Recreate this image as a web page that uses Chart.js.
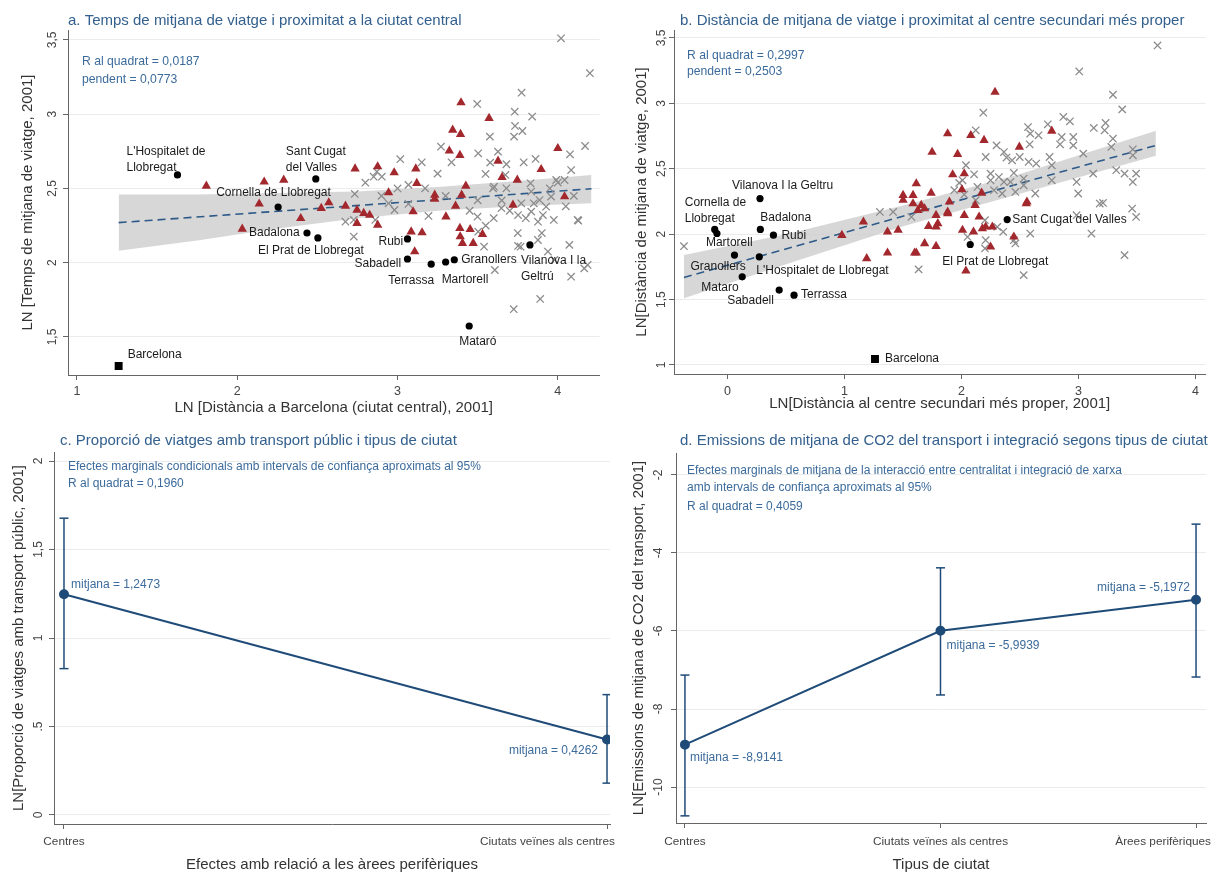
<!DOCTYPE html>
<html lang="ca">
<head>
<meta charset="utf-8">
<title>Viatges, proximitat i tipus de ciutat</title>
<script src="https://cdn.jsdelivr.net/npm/chart.js@4.4.1/dist/chart.umd.min.js"></script>
<style>
  body { margin: 0; background: #fff; }
  .panel { position: absolute; }
</style>
</head>
<body>
<div class="panel" style="left:0;top:0"><canvas id="chartA" width="606" height="420"></canvas></div>
<div class="panel" style="left:606px;top:0"><canvas id="chartB" width="606" height="420"></canvas></div>
<div class="panel" style="left:0;top:420px"><canvas id="chartC" width="620" height="453"></canvas></div>
<div class="panel" style="left:612px;top:420px"><canvas id="chartD" width="600" height="453"></canvas></div>
<script>
// ---------- panel a: temps de viatge vs distancia a Barcelona ----------
const citiesA = ["L'Hospitalet de\nLlobregat", "Sant Cugat\ndel Valles", "Cornella de Llobregat", "Badalona",
  "El Prat de Llobregat", "Rubi", "Sabadell", "Terrassa", "Martorell", "Granollers", "Vilanova I la\nGeltrú", "Mataró"];
const cityXA = [1.627, 2.49, 2.255, 2.435, 2.503, 3.062, 3.062, 3.21, 3.30, 3.354, 3.826, 3.447];
const cityYA = [2.591, 2.564, 2.375, 2.20, 2.167, 2.16, 2.025, 1.99, 2.005, 2.02, 2.12, 1.574];
const bcnA = [1.26, 1.305];
const triXA = [3.396, 3.571, 3.344, 3.393, 3.323, 3.389, 2.735, 2.876, 2.979, 3.114, 3.627, 3.652, 3.747, 3.896, 4.0,
  3.12, 2.944, 3.426, 3.4, 3.232, 3.232, 2.571, 2.675, 2.524, 2.747, 2.789, 2.826, 3.097, 3.362, 3.302, 2.747, 2.876,
  3.72, 4.042, 3.085, 3.153, 3.389, 3.453, 3.53, 3.391, 3.405, 3.472, 3.107, 2.396, 1.807, 2.168, 2.29, 2.137, 2.031];
const triYA = [3.078, 2.973, 2.894, 2.865, 2.753, 2.724, 2.633, 2.647, 2.607, 2.633, 2.685, 2.575, 2.557, 2.629, 2.77,
  2.535, 2.472, 2.517, 2.456, 2.456, 2.429, 2.405, 2.382, 2.367, 2.355, 2.333, 2.321, 2.344, 2.382, 2.31, 2.266, 2.254,
  2.389, 2.445, 2.209, 2.203, 2.232, 2.225, 2.192, 2.176, 2.131, 2.131, 2.075, 2.299, 2.517, 2.545, 2.557, 2.396, 2.227];
const crsXA = [4.02, 4.2, 3.774, 3.497, 3.731, 3.84, 3.733, 3.576, 3.727, 3.779, 4.17, 3.271, 3.337, 3.503, 3.627, 4.076,
  3.861, 3.787, 3.578, 3.679, 3.017, 3.151, 2.871, 2.902, 2.799, 4.083, 3.549, 3.673, 3.99, 3.068, 3.172, 2.733, 3.83,
  3.602, 2.851, 2.981, 2.944, 3.068, 3.193, 3.499, 3.596, 3.679, 3.648, 3.772, 3.834, 3.834, 3.886, 3.927, 3.907, 3.876,
  3.752, 3.958, 4.0, 4.042, 3.975, 3.503, 4.124, 3.768, 3.876, 3.54, 4.072, 3.938, 2.861, 2.727, 2.727, 2.675, 4.186,
  3.607, 4.083, 4.128, 3.979, 4.165, 3.89, 3.725, 3.752, 3.65, 3.7, 3.8, 3.85, 3.95, 3.6, 3.5, 3.55, 3.9, 3.75, 4.05,
  4.1, 3.45, 3.3, 3.25, 3.0, 2.9];
const crsYA = [3.511, 3.276, 3.145, 3.069, 3.017, 2.984, 2.921, 2.849, 2.849, 2.887, 2.786, 2.781, 2.676, 2.737, 2.748,
  2.73, 2.699, 2.676, 2.674, 2.663, 2.697, 2.676, 2.613, 2.579, 2.539, 2.624, 2.598, 2.591, 2.557, 2.524, 2.501, 2.463,
  2.535, 2.512, 2.579, 2.355, 2.4, 2.396, 2.315, 2.31, 2.501, 2.501, 2.367, 2.4, 2.479, 2.344, 2.422, 2.377, 2.321, 2.276,
  2.321, 2.445, 2.54, 2.557, 2.288, 2.209, 2.288, 2.108, 2.153, 2.108, 2.12, 2.075, 2.288, 2.288, 2.176, 2.276, 1.985,
  1.951, 1.906, 2.283, 2.019, 1.962, 1.756, 1.687, 2.113, 2.42, 2.35, 2.3, 2.4, 2.5, 2.3, 2.42, 2.25, 2.2, 2.2, 2.38,
  2.45, 2.35, 2.45, 2.6, 2.5, 2.45];
const fitXA = [1.26, 4.21];
const fitYA = [2.27, 2.498];
const bandXA = [1.26, 1.75, 2.25, 2.75, 3.25, 3.75, 4.21];
const bandLoA = [2.08, 2.15, 2.23, 2.30, 2.35, 2.38, 2.40];
const bandHiA = [2.46, 2.46, 2.47, 2.48, 2.51, 2.55, 2.59];
const xTicksA = [1, 2, 3, 4];
const yTicksA = [1.5, 2, 2.5, 3, 3.5];
const yTickLabelsA = ['1,5', '2', '2,5', '3', '3,5'];

// ---------- panel b: distancia de viatge vs centre secundari ----------
const citiesB = ['Vilanova I la Geltru', 'Cornella de\nLlobregat', 'Martorell', 'Granollers', 'Badalona', 'Rubi',
  "L'Hospitalet de Llobregat", 'Mataro', 'Sabadell', 'Terrassa', 'Sant Cugat del Valles', 'El Prat de Llobregat'];
const cityXB = [0.277, -0.110, -0.091, 0.059, 0.280, 0.392, 0.271, 0.125, 0.441, 0.568, 2.39, 2.074];
const cityYB = [2.272, 2.036, 2.005, 1.840, 2.036, 1.992, 1.827, 1.674, 1.573, 1.534, 2.112, 1.921];
const bcnB = [1.26, 1.046];
const triXB = [2.286, 1.881, 2.079, 2.192, 1.748, 1.966, 2.771, 2.494, 1.924, 2.023, 1.613, 1.74, 2.172, 2.003, 1.896,
  2.559, 1.585, 1.655, 1.881, 1.782, 1.718, 1.782, 2.023, 2.008, 2.102, 2.15, 2.206, 2.263, 2.178, 1.458, 1.613, 1.782,
  2.248, 2.447, 2.553, 2.037, 2.116, 0.977, 1.161, 1.189, 1.367, 1.367, 1.599, 1.5, 1.5, 1.585, 1.627, 1.684, 1.684,
  1.881, 1.797];
const triYB = [3.086, 2.769, 2.756, 2.718, 2.628, 2.611, 2.789, 2.667, 2.456, 2.463, 2.387, 2.315, 2.315, 2.341, 2.247,
  2.247, 2.298, 2.221, 2.17, 2.145, 2.061, 2.056, 2.145, 2.031, 2.018, 2.132, 2.056, 2.056, 2.043, 2.031, 1.857, 1.908,
  1.903, 1.979, 2.234, 1.72, 2.221, 1.992, 2.094, 1.814, 2.018, 1.857, 1.857, 2.26, 2.298, 2.234, 2.183, 2.196, 1.929,
  2.158, 2.082];
const crsXB = [3.675, 3.006, 3.294, 3.373, 2.186, 2.121, 2.737, 2.87, 2.926, 3.13, 3.231, 3.223, 2.568, 2.587, 2.658,
  2.582, 2.299, 2.362, 2.206, 2.384, 2.432, 2.497, 2.573, 2.638, 2.752, 2.842, 2.856, 2.955, 2.955, 3.04, 3.294, 3.28,
  3.464, 3.464, 2.037, 2.107, 2.248, 2.319, 2.447, 2.531, 2.771, 2.983, 3.125, 3.393, 3.492, 3.464, 3.322, 2.997, 3.209,
  2.418, 2.531, 2.63, 2.771, 2.362, 2.248, 2.277, 2.347, 2.46, 2.136, 1.98, 2.023, 3.492, 3.11, 3.393, 3.181, 3.458,
  2.983, 2.587, 2.447, 2.46, 2.2, 2.206, 2.2, 2.356, 2.305, 1.633, 2.531, 2.051, 2.008, 1.938, 2.121, -0.373, 1.302,
  1.415, 1.571];
const crsYB = [3.443, 3.244, 3.066, 2.954, 2.929, 2.794, 2.84, 2.896, 2.863, 2.812, 2.85, 2.794, 2.819, 2.769, 2.756,
  2.687, 2.679, 2.628, 2.59, 2.586, 2.565, 2.59, 2.552, 2.54, 2.59, 2.687, 2.743, 2.743, 2.679, 2.616, 2.73, 2.667,
  2.649, 2.603, 2.527, 2.458, 2.463, 2.437, 2.468, 2.425, 2.527, 2.399, 2.463, 2.463, 2.463, 2.399, 2.489, 2.311, 2.239,
  2.399, 2.374, 2.311, 2.412, 2.399, 2.412, 2.336, 2.311, 2.323, 2.361, 2.392, 2.303, 2.132, 2.005, 1.84, 2.234, 2.196,
  2.145, 2.005, 1.954, 1.929, 2.107, 1.954, 1.891, 2.018, 2.056, 1.731, 1.687, 1.979, 2.412, 2.336, 2.26, 1.908, 2.17,
  2.17, 2.132];
const fitXB = [-0.373, 3.661];
const fitYB = [1.669, 2.679];
const bandXB = [-0.373, 0.5, 1.5, 2.5, 3.661];
const bandLoB = [1.51, 1.77, 2.06, 2.31, 2.60];
const bandHiB = [1.84, 2.00, 2.22, 2.46, 2.79];
const xTicksB = [0, 1, 2, 3, 4];
const yTicksB = [1, 1.5, 2, 2.5, 3, 3.5];
const yTickLabelsB = ['1', '1,5', '2', '2,5', '3', '3,5'];

// ---------- panel c: proporcio de viatges amb transport public ----------
const catsC = ['Centres', 'Ciutats veïnes als centres'];
const meanC = [1.2473, 0.4262];
const loC = [0.827, 0.18];
const hiC = [1.677, 0.68];
const meanLabelsC = ['mitjana = 1,2473', 'mitjana = 0,4262'];
const yTicksC = [0, 0.5, 1, 1.5, 2];
const yTickLabelsC = ['0', '.5', '1', '1,5', '2'];

// ---------- panel d: emissions de CO2 ----------
const catsD = ['Centres', 'Ciutats veïnes als centres', 'Àrees perifèriques'];
const meanD = [-8.9141, -5.9939, -5.1972];
const loD = [-10.74, -7.64, -7.18];
const hiD = [-7.13, -4.38, -3.26];
const meanLabelsD = ['mitjana = -8,9141', 'mitjana = -5,9939', 'mitjana = -5,1972'];
const yTicksD = [-10, -8, -6, -4, -2];
const yTickLabelsD = ['-10', '-8', '-6', '-4', '-2'];

// ---------- styling ----------
const FONT = '"Liberation Sans", Arial, sans-serif';
const TITLE_COL = '#33608e';
const NOTE_COL = '#3c6b9b';
const NAVY = '#1f4b78';
const RED = '#a2282e';
const GREY = '#8c8c8c';
Chart.defaults.font.family = FONT;
Chart.defaults.animation = false;

const pts = (xs, ys) => xs.map((x, i) => ({ x, y: ys[i] }));

function axis(min, max, ticks, size, onArea) {
  return {
    type: 'linear', min, max,
    afterBuildTicks: s => { s.ticks = ticks.map(v => ({ value: v })); },
    afterFit: s => { if (s.isHorizontal()) s.height = size; else s.width = size; },
    ticks: { display: false },
    grid: { drawOnChartArea: onArea, color: '#ebebeb', drawTicks: true, tickLength: 5, tickColor: '#666', tickWidth: 1 },
    border: { display: true, color: '#666', width: 1 }
  };
}

// titles, notes, rotated y tick labels, x tick labels and point labels
function panelText(c) {
  return {
    id: 'panelText',
    afterDatasetsDraw(chart) {
      const ctx = chart.ctx, a = chart.chartArea, sx = chart.scales.x, sy = chart.scales.y;
      ctx.save();
      ctx.textBaseline = 'middle';
      ctx.textAlign = 'left';
      ctx.fillStyle = TITLE_COL;
      ctx.font = '15px ' + FONT;
      ctx.fillText(c.title, a.left + c.titleDx, c.titleY);

      ctx.fillStyle = NOTE_COL;
      ctx.font = c.noteFont + ' ' + FONT;
      c.notes.forEach((t, i) => ctx.fillText(t, a.left + c.noteDx, c.noteY[i]));

      // y tick labels (vertical)
      ctx.fillStyle = '#444';
      ctx.font = '12px ' + FONT;
      c.yTicks.forEach((v, i) => {
        ctx.save();
        ctx.translate(a.left - c.yTickGap, sy.getPixelForValue(v));
        ctx.rotate(-Math.PI / 2);
        ctx.textAlign = 'center';
        ctx.fillText(c.yTickLabels[i], 0, 0);
        ctx.restore();
      });
      // x tick labels
      ctx.font = c.xTickFont + ' ' + FONT;
      ctx.textAlign = 'left';
      c.xTicks.forEach((v, i) => {
        const lbl = c.xTickLabels[i];
        const w = ctx.measureText(lbl).width;
        let x = sx.getPixelForValue(v) - w / 2;
        if (x + w > c.xLabelMax) x = c.xLabelMax - w;
        ctx.fillText(lbl, x, a.bottom + c.xTickGap);
      });
      // axis titles
      ctx.fillStyle = '#333';
      ctx.font = '15px ' + FONT;
      ctx.textAlign = 'center';
      ctx.fillText(c.xTitle, (a.left + a.right) / 2, a.bottom + c.xTitleGap);
      ctx.save();
      ctx.translate(a.left - c.yTitleGap, (a.top + a.bottom) / 2);
      ctx.rotate(-Math.PI / 2);
      ctx.fillText(c.yTitle, 0, 0);
      ctx.restore();

      // point labels
      ctx.fillStyle = c.labelCol;
      ctx.font = c.labelFont + ' ' + FONT;
      c.labels.forEach((lab, i) => {
        const px = sx.getPixelForValue(lab.x), py = sy.getPixelForValue(lab.y);
        const off = c.offsets[i];
        ctx.textAlign = off[2] || 'left';
        lab.text.split('\n').forEach((line, k) => ctx.fillText(line, px + off[0], py + off[1] + k * c.lineGap));
      });
      ctx.restore();
    }
  };
}

function scatterPanel(id, p) {
  const datasets = [
    { data: pts(p.cityX, p.cityY), pointStyle: 'circle', pointRadius: 3.6, backgroundColor: '#000', borderColor: '#000', borderWidth: 0 },
    { data: [{ x: p.bcn[0], y: p.bcn[1] }], pointStyle: 'rect', pointRadius: 5.6, backgroundColor: '#000', borderColor: '#000', borderWidth: 0 },
    { data: pts(p.triX, p.triY), pointStyle: 'triangle', pointRadius: 5.4, backgroundColor: RED, borderColor: RED, borderWidth: 0 },
    { data: pts(p.crsX, p.crsY), pointStyle: 'crossRot', pointRadius: 5.2, borderColor: GREY, borderWidth: 1.3 },
    { type: 'line', data: pts(p.fitX, p.fitY), borderColor: '#2d5a88', borderWidth: 1.6, borderDash: [8, 5], pointRadius: 0, fill: false },
    { type: 'line', data: pts(p.bandX, p.bandHi), borderWidth: 0, pointRadius: 0, backgroundColor: 'rgba(208,208,208,0.85)', fill: '+1' },
    { type: 'line', data: pts(p.bandX, p.bandLo), borderWidth: 0, pointRadius: 0, fill: false }
  ];
  const labels = p.cityNames.map((t, i) => ({ text: t, x: p.cityX[i], y: p.cityY[i] }));
  labels.push({ text: 'Barcelona', x: p.bcn[0], y: p.bcn[1] });
  return new Chart(document.getElementById(id), {
    type: 'scatter',
    data: { datasets },
    options: {
      responsive: false,
      layout: { padding: { left: 0, top: p.area.t, right: p.W - p.area.r, bottom: 0 } },
      plugins: { legend: { display: false }, tooltip: { enabled: false } },
      scales: {
        x: axis(p.xMin, p.xMax, p.xTicks, p.H - p.area.b, false),
        y: axis(p.yMin, p.yMax, p.yTicks, p.area.l, true)
      }
    },
    plugins: [panelText(Object.assign({ labels, labelCol: '#1a1a1a', labelFont: '12px', lineGap: 16,
      xTickLabels: p.xTicks.map(String), xTickFont: '12.5px', xLabelMax: p.W, noteFont: '12.2px' }, p.text))]
  });
}

function marginsPanel(id, p) {
  const datasets = [
    { type: 'line', data: pts(p.cats.map((c, i) => i), p.mean), borderColor: NAVY, borderWidth: 2, pointStyle: 'circle',
      pointRadius: 4, pointBackgroundColor: NAVY, pointBorderColor: NAVY, fill: false }
  ];
  p.cats.forEach((c, i) => datasets.push({ type: 'line', data: [{ x: i, y: p.lo[i] }, { x: i, y: p.hi[i] }],
    borderColor: NAVY, borderWidth: 1.5, pointStyle: 'line', pointRadius: 4.5, pointBorderColor: NAVY,
    pointBorderWidth: 1.5, fill: false }));
  const labels = p.meanLabels.map((t, i) => ({ text: t, x: i, y: p.mean[i] }));
  return new Chart(document.getElementById(id), {
    type: 'scatter',
    data: { datasets },
    options: {
      responsive: false,
      layout: { padding: { left: 0, top: p.area.t, right: p.W - p.area.r, bottom: 0 } },
      plugins: { legend: { display: false }, tooltip: { enabled: false } },
      scales: {
        x: axis(p.xMin, p.xMax, p.cats.map((c, i) => i), p.H - p.area.b, false),
        y: axis(p.yMin, p.yMax, p.yTicks, p.area.l, true)
      }
    },
    plugins: [panelText(Object.assign({ labels, labelCol: NOTE_COL, labelFont: '12px', lineGap: 15,
      xTicks: p.cats.map((c, i) => i), xTickLabels: p.cats, xTickFont: '11.8px', noteFont: '12px' }, p.text))]
  });
}

scatterPanel('chartA', {
  W: 606, H: 420, area: { l: 68, t: 30, r: 602, b: 375 },
  xMin: 0.944, xMax: 4.26, yMin: 1.244, yMax: 3.567, xTicks: xTicksA, yTicks: yTicksA,
  cityNames: citiesA, cityX: cityXA, cityY: cityYA, bcn: bcnA,
  triX: triXA, triY: triYA, crsX: crsXA, crsY: crsYA,
  fitX: fitXA, fitY: fitYA, bandX: bandXA, bandLo: bandLoA, bandHi: bandHiA,
  text: {
    title: 'a. Temps de mitjana de viatge i proximitat a la ciutat central', titleDx: 0, titleY: 21,
    notes: ['R al quadrat = 0,0187', 'pendent = 0,0773'], noteDx: 14, noteY: [62, 80],
    xTicks: xTicksA, yTicks: yTicksA, yTickLabels: yTickLabelsA, yTickGap: 15, xTickGap: 17,
    xTitle: 'LN [Distància a Barcelona (ciutat central), 2001]', xTitleGap: 33,
    yTitle: 'LN [Temps de mitjana de viatge, 2001]', yTitleGap: 40,
    offsets: [[-51, -23], [-30, -27], [-62, -14], [-58, 0], [-60, 13], [-29, 3], [-53, 5], [-43, 16], [-4, 18], [7, 0],
      [-9, 16], [-10, 16], [9, -11]]
  }
});

scatterPanel('chartB', {
  W: 606, H: 420, area: { l: 68, t: 30, r: 604, b: 374 },
  xMin: -0.458, xMax: 4.085, yMin: 0.931, yMax: 3.561, xTicks: xTicksB, yTicks: yTicksB,
  cityNames: citiesB, cityX: cityXB, cityY: cityYB, bcn: bcnB,
  triX: triXB, triY: triYB, crsX: crsXB, crsY: crsYB,
  fitX: fitXB, fitY: fitYB, bandX: bandXB, bandLo: bandLoB, bandHi: bandHiB,
  text: {
    title: 'b. Distància de mitjana de viatge i proximitat al centre secundari més proper', titleDx: 6, titleY: 21,
    notes: ['R al quadrat = 0,2997', 'pendent = 0,2503'], noteDx: 13, noteY: [56, 72],
    xTicks: xTicksB, yTicks: yTicksB, yTickLabels: yTickLabelsB, yTickGap: 12, xTickGap: 18,
    xTitle: 'LN[Distància al centre secundari més proper, 2001]', xTitleGap: 30,
    yTitle: 'LN[Distància de mitjana de viatge, 2001]', yTitleGap: 32,
    offsets: [[-28, -13], [-30, -27], [-11, 9], [-44, 12], [0, -12], [8, 0], [-3, 14], [-41, 11], [-52, 11], [7, 0],
      [5, 0], [-28, 17], [10, 0]]
  }
});

marginsPanel('chartC', {
  W: 620, H: 453, area: { l: 54, t: 32, r: 610, b: 404 },
  xMin: -0.0184, xMax: 1.0055, yMin: -0.051, yMax: 2.051, yTicks: yTicksC,
  cats: catsC, mean: meanC, lo: loC, hi: hiC, meanLabels: meanLabelsC,
  text: {
    title: 'c. Proporció de viatges amb transport públic i tipus de ciutat', titleDx: 6, titleY: 21,
    notes: ['Efectes marginals condicionals amb intervals de confiança aproximats al 95%', 'R al quadrat = 0,1960'],
    noteDx: 14, noteY: [47, 64],
    yTicks: yTicksC, yTickLabels: yTickLabelsC, yTickGap: 15, xTickGap: 18, xLabelMax: 615,
    xTitle: 'Efectes amb relació a les àrees perifèriques', xTitleGap: 41,
    yTitle: 'LN[Proporció de viatges amb transport públic, 2001]', yTitleGap: 35,
    offsets: [[7, -10], [-9, 11, 'right']]
  }
});

marginsPanel('chartD', {
  W: 600, H: 453, area: { l: 64, t: 33, r: 598, b: 403 },
  xMin: -0.035, xMax: 2.039, yMin: -10.923, yMax: -1.436, yTicks: yTicksD,
  cats: catsD, mean: meanD, lo: loD, hi: hiD, meanLabels: meanLabelsD,
  text: {
    title: 'd. Emissions de mitjana de CO2 del transport i integració segons tipus de ciutat', titleDx: 4, titleY: 21,
    notes: ['Efectes marginals de mitjana de la interacció entre centralitat i integració de xarxa',
      'amb intervals de confiança aproximats al 95%', 'R al quadrat = 0,4059'],
    noteDx: 11, noteY: [51, 68, 87],
    yTicks: yTicksD, yTickLabels: yTickLabelsD, yTickGap: 17, xTickGap: 19, xLabelMax: 599,
    xTitle: 'Tipus de ciutat', xTitleGap: 42,
    yTitle: 'LN[Emissions de mitjana de CO2 del transport, 2001]', yTitleGap: 37,
    offsets: [[5, 13], [6, 15], [-6, -12, 'right']]
  }
});
</script>
</body>
</html>
